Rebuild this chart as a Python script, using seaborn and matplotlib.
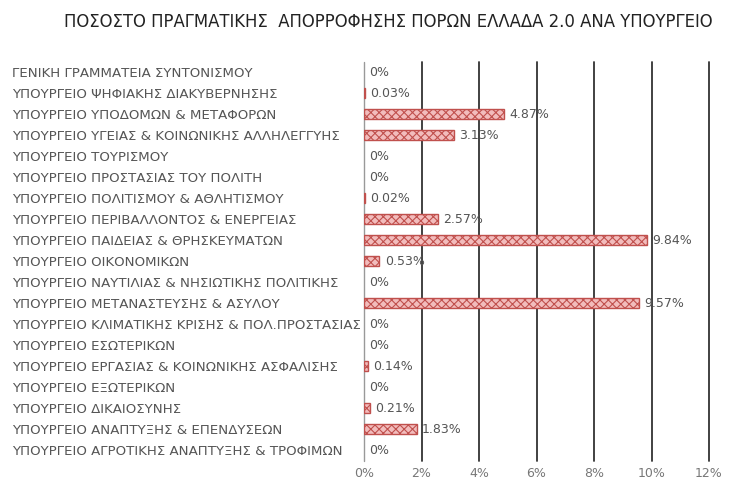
import matplotlib
matplotlib.use("Agg")
import matplotlib.pyplot as plt
import seaborn as sns
import pandas as pd

categories = [
    "ΓΕΝΙΚΗ ΓΡΑΜΜΑΤΕΙΑ ΣΥΝΤΟΝΙΣΜΟΥ",
    "ΥΠΟΥΡΓΕΙΟ ΨΗΦΙΑΚΗΣ ΔΙΑΚΥΒΕΡΝΗΣΗΣ",
    "ΥΠΟΥΡΓΕΙΟ ΥΠΟΔΟΜΩΝ & ΜΕΤΑΦΟΡΩΝ",
    "ΥΠΟΥΡΓΕΙΟ ΥΓΕΙΑΣ & ΚΟΙΝΩΝΙΚΗΣ ΑΛΛΗΛΕΓΓΥΗΣ",
    "ΥΠΟΥΡΓΕΙΟ ΤΟΥΡΙΣΜΟΥ",
    "ΥΠΟΥΡΓΕΙΟ ΠΡΟΣΤΑΣΙΑΣ ΤΟΥ ΠΟΛΙΤΗ",
    "ΥΠΟΥΡΓΕΙΟ ΠΟΛΙΤΙΣΜΟΥ & ΑΘΛΗΤΙΣΜΟΥ",
    "ΥΠΟΥΡΓΕΙΟ ΠΕΡΙΒΑΛΛΟΝΤΟΣ & ΕΝΕΡΓΕΙΑΣ",
    "ΥΠΟΥΡΓΕΙΟ ΠΑΙΔΕΙΑΣ & ΘΡΗΣΚΕΥΜΑΤΩΝ",
    "ΥΠΟΥΡΓΕΙΟ ΟΙΚΟΝΟΜΙΚΩΝ",
    "ΥΠΟΥΡΓΕΙΟ ΝΑΥΤΙΛΙΑΣ & ΝΗΣΙΩΤΙΚΗΣ ΠΟΛΙΤΙΚΗΣ",
    "ΥΠΟΥΡΓΕΙΟ ΜΕΤΑΝΑΣΤΕΥΣΗΣ & ΑΣΥΛΟΥ",
    "ΥΠΟΥΡΓΕΙΟ ΚΛΙΜΑΤΙΚΗΣ ΚΡΙΣΗΣ & ΠΟΛ.ΠΡΟΣΤΑΣΙΑΣ",
    "ΥΠΟΥΡΓΕΙΟ ΕΣΩΤΕΡΙΚΩΝ",
    "ΥΠΟΥΡΓΕΙΟ ΕΡΓΑΣΙΑΣ & ΚΟΙΝΩΝΙΚΗΣ ΑΣΦΑΛΙΣΗΣ",
    "ΥΠΟΥΡΓΕΙΟ ΕΞΩΤΕΡΙΚΩΝ",
    "ΥΠΟΥΡΓΕΙΟ ΔΙΚΑΙΟΣΥΝΗΣ",
    "ΥΠΟΥΡΓΕΙΟ ΑΝΑΠΤΥΞΗΣ & ΕΠΕΝΔΥΣΕΩΝ",
    "ΥΠΟΥΡΓΕΙΟ ΑΓΡΟΤΙΚΗΣ ΑΝΑΠΤΥΞΗΣ & ΤΡΟΦΙΜΩΝ",
]
values = [0, 0.03, 4.87, 3.13, 0, 0, 0.02, 2.57, 9.84, 0.53,
          0, 9.57, 0, 0, 0.14, 0, 0.21, 1.83, 0]
value_labels = ["0%", "0.03%", "4.87%", "3.13%", "0%", "0%", "0.02%", "2.57%",
                "9.84%", "0.53%", "0%", "9.57%", "0%", "0%", "0.14%", "0%",
                "0.21%", "1.83%", "0%"]
x_ticks = [0, 2, 4, 6, 8, 10, 12]
x_tick_labels = ["0%", "2%", "4%", "6%", "8%", "10%", "12%"]
title = "ΠΟΣΟΣΤΟ ΠΡΑΓΜΑΤΙΚΗΣ  ΑΠΟΡΡΟΦΗΣΗΣ ΠΟΡΩΝ ΕΛΛΑΔΑ 2.0 ΑΝΑ ΥΠΟΥΡΓΕΙΟ"

sns.set_theme(style="white")
plt.rcParams["font.family"] = ["DejaVu Sans"]
plt.rcParams["hatch.color"] = "#c0504d"
plt.rcParams["hatch.linewidth"] = 0.8

df = pd.DataFrame({"cat": categories, "val": values})

fig = plt.figure(figsize=(7.4, 4.96), dpi=100)
ax = fig.add_axes([364 / 740, 1 - 460.5 / 496, (709 - 364) / 740, (460.5 - 61.5) / 496])

sns.barplot(data=df, x="val", y="cat", orient="h", ax=ax, color="#f2bcbc",
            width=0.52, edgecolor="#c0504d", linewidth=1.0, hatch="xxxx",
            saturation=1)
for p in ax.patches:
    if p.get_width() == 0:
        p.set_linewidth(0)

ax.set_xlim(0, 12)
ax.set_ylim(len(categories) - 0.5, -0.5)
ax.set_xticks(x_ticks)
ax.set_xticklabels(x_tick_labels, color="#777777", fontsize=9)
ax.set_xlabel("")
ax.set_ylabel("")
ax.tick_params(axis="x", length=0, pad=5)
ax.tick_params(axis="y", length=0, pad=(364 - 12) * 0.72)
for lab in ax.get_yticklabels():
    lab.set_horizontalalignment("left")
    lab.set_color("#555555")
    lab.set_fontsize(9.6)

for s in ax.spines.values():
    s.set_visible(False)
for xv in x_ticks:
    ax.axvline(xv, color="#999999" if xv == 0 else "#333333",
               lw=1.0 if xv == 0 else 1.3, zorder=0.5, clip_on=False)

for i, (v, t) in enumerate(zip(values, value_labels)):
    ax.annotate(t, xy=(v, i), xytext=(4, 0), textcoords="offset points",
                va="center", ha="left", color="#555555", fontsize=9)

fig.text(388 / 740, 1 - 22 / 496, title, ha="center", va="center",
         fontsize=11.9, color="#222222")

fig.savefig("out.png", dpi=100, facecolor="white")
